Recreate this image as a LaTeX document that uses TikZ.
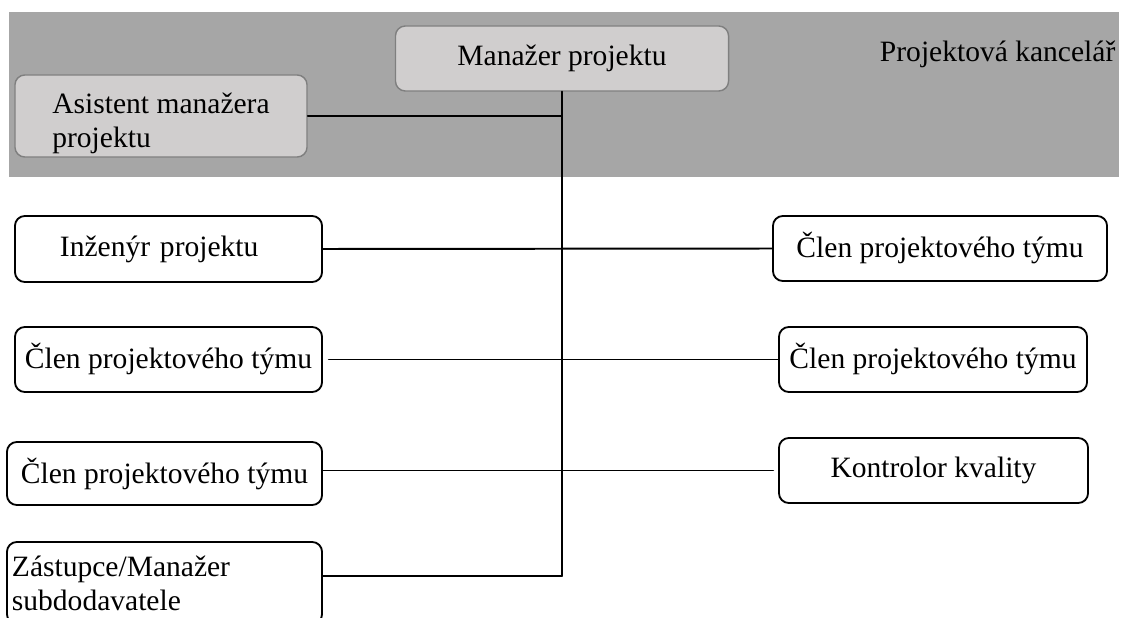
\documentclass[tikz,border=0pt]{standalone}
\usepackage{fontspec}
\setmainfont{Liberation Serif}
\definecolor{officegray}{HTML}{A6A6A6}
\definecolor{leadfill}{HTML}{D0CECE}
\definecolor{leadedge}{HTML}{7F7F7F}
\tikzset{
  lead/.style={draw=leadedge,fill=leadfill,line width=1pt,rounded corners=7pt,inner sep=0pt,align=left},
  member/.style={draw=black,fill=white,line width=1.3pt,rounded corners=7pt,inner sep=0pt,align=left},
  link/.style={line width=1.4pt}
}

\begin{document}
\begin{tikzpicture}[line cap=round,line join=round,x=0.025cm,y=-0.025cm,font=\fontsize{21}{24}\selectfont]
		\useasboundingbox (0,0) rectangle (1122,617);
		\clip (0,0) rectangle (1122,617);
		% project office band
		\fill[officegray] (9,12) rectangle (1119,177);
		\node[anchor=base west] (office) at (875,62) {Projektová kancelář};
		\node[lead,minimum width=8.325cm,minimum height=1.625cm] (mgr) at (562,58.5) {Manažer projektu};
		\node[lead,minimum width=7.3cm,minimum height=2.05cm] (asist) at (161,116) {\rule{0pt}{25pt}Asistent manažera\\projektu};
		% left column
		\node[member,minimum height=1.65cm,text width=5.425cm,inner xsep=1.125cm] (inz) at (168.5,249) {Inženýr projektu};
		\node[member,minimum width=7.675cm,minimum height=1.625cm] (clenA) at (168.5,359.5) {Člen projektového týmu};
		\node[member,minimum width=7.875cm,minimum height=1.575cm] (clenB) at (164.5,473.5) {Člen projektového týmu};
		\node[member,minimum height=2.05cm,text width=7.625cm,inner xsep=0.125cm] (zast) at (164.5,583) {Zástupce/Manažer\\subdodavatele};
		% right column
		\node[member,minimum width=8.35cm,minimum height=1.625cm] (clenC) at (940,248.5) {Člen projektového týmu};
		\node[member,minimum width=7.7cm,minimum height=1.625cm] (clenD) at (933,359.5) {Člen projektového týmu};
		\node[member,minimum width=7.725cm,minimum height=1.625cm] (qc) at (933.5,470.5) {Kontrolor kvality};
		% connectors
		\coordinate (spine) at (562,576);
		\draw[link] (mgr.south) -- (spine);
		\draw[link] (asist.east) -- (asist.east -| mgr.south);
		\draw[link] (zast.east |- spine) -- (spine);
		\draw[link] (inz.east) -- (clenC.west);
		\draw[link,shorten <=0.15cm] (clenA.east) -- (clenD.west);
		\draw[link,shorten >=0.125cm] (clenB.east |- qc.west) -- (qc.west);
\end{tikzpicture}
\end{document}
